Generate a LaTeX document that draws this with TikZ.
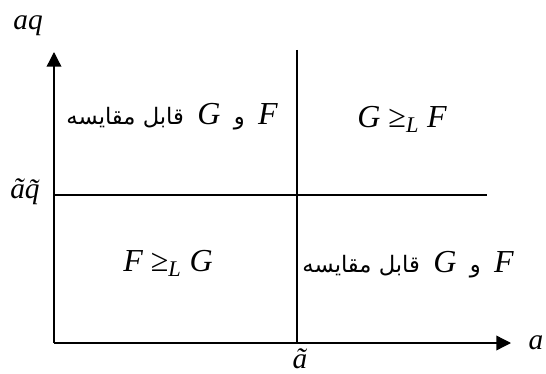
\documentclass[tikz,border=0pt]{standalone}
\usepackage{fontspec}
\setmainfont{Liberation Serif}
\newfontfamily\farsifont[Script=Arabic]{DejaVu Sans}
\TeXXeTstate=1
\usetikzlibrary{arrows.meta,positioning}
\tikzset{
  axisline/.style={-{Triangle[length=11pt,width=11pt]}, line width=1pt},
  splitline/.style={-, line width=1pt},
  axislabel/.style={font=\fontsize{22}{26}\selectfont\itshape, inner sep=0pt},
  zonelabel/.style={font=\fontsize{24}{28}\selectfont, inner sep=0pt}
}
\newcommand{\vname}[1]{{\itshape #1}}
\newcommand{\farsi}[1]{{\farsifont\fontsize{17}{21}\selectfont #1}}
\newcommand{\comparable}{\beginR\vname{F}\hspace{10pt}\farsi{و}\hspace{10pt}\vname{G}\hspace{10pt}\farsi{قابل مقایسه}\endR}
\newcommand{\geqL}[2]{\vname{#1} ≥\textsubscript{\vname{L}}\ \vname{#2}}

\begin{document}
\begin{tikzpicture}[x=0.75pt,y=-0.75pt]
  \useasboundingbox (0,0) rectangle (546,374);
  % axes and the two split lines
  \coordinate (origin) at (54,343);
  \coordinate (ytip) at (54,52);
  \coordinate (xtip) at (511,343);
  \coordinate (vtop) at (297,50);
  \coordinate (vbot) at (297,343);
  \coordinate (hleft) at (54,195);
  \coordinate (hright) at (487,195);
  \draw[axisline] (origin) -- (ytip);
  \draw[axisline] (origin) -- (xtip);
  \draw[splitline] (vtop) -- (vbot);
  \draw[splitline] (hleft) -- (hright);

  \node[axislabel] (ylab) at (28,26) {aq};
  \node[axislabel] (xlab) at (536,343) {a};
  \node[axislabel] (acut) at (300,359) {\~a};
  \node[axislabel] (aqcut) at (25,192) {\~a\~q};

  % quadrants
  \node[zonelabel] (tl) at (172,117) {\comparable};
  \node[zonelabel] (tr) at (402,119) {\geqL{G}{F}};
  \node[zonelabel] (bl) at (168,263) {\geqL{F}{G}};
  \node[zonelabel] (br) at (408,265) {\comparable};
\end{tikzpicture}
\end{document}
